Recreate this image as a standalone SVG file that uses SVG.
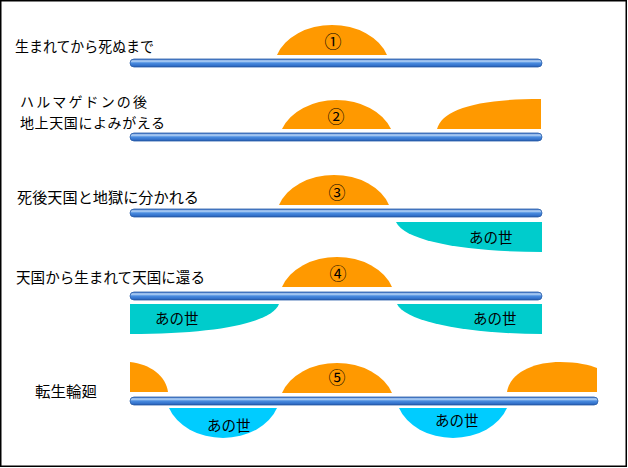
<svg xmlns="http://www.w3.org/2000/svg" width="628" height="468" viewBox="0 0 628 468">
<defs>
<linearGradient id="barGrad" x1="0" y1="0" x2="0" y2="1">
<stop offset="0" stop-color="#2c66c0"/>
<stop offset="0.25" stop-color="#bcd8f8"/>
<stop offset="0.5" stop-color="#4a8ce0"/>
<stop offset="0.8" stop-color="#3473cc"/>
<stop offset="1" stop-color="#2356a8"/>
</linearGradient>
</defs>
<style>
.bar{fill:url(#barGrad);stroke:#2a5eaa;stroke-width:0.8}
.life{fill:#ff9900}
.other{fill:#00cccc}
.other2{fill:#00ccff}
.lbl{font-family:"Noto Sans CJK JP","Noto Sans",sans-serif;font-size:14.5px;fill:#000}
.lbl2{font-family:"Noto Sans CJK JP","Noto Sans",sans-serif;font-size:14px;fill:#000}
.num{font-family:"Noto Sans CJK JP","DejaVu Sans",sans-serif;font-size:17px;fill:#000;text-anchor:middle}
.ano{font-family:"Noto Sans CJK JP","Noto Sans",sans-serif;font-size:14.5px;fill:#000}
</style>
<rect x="0" y="0" width="628" height="468" fill="#ffffff"/>
<rect x="0.75" y="0.75" width="625.5" height="465.5" fill="none" stroke="#000" stroke-width="1.5"/>

<g id="row1">
<text class="lbl" x="15" y="52" textLength="139" lengthAdjust="spacingAndGlyphs">生まれてから死ぬまで</text>
<path class="life" d="M277,55 A58,44 0 0 1 387,55 Z"/>
<text class="num" x="333" y="48">①</text>
<rect class="bar" x="130" y="59" width="412" height="8" rx="4"/>
</g>

<g id="row2">
<text class="lbl2" x="20" y="107" textLength="127" lengthAdjust="spacing">ハルマゲドンの後</text>
<text class="lbl2" x="20" y="128" textLength="145" lengthAdjust="spacing">地上天国によみがえる</text>
<path class="life" d="M282,129 A58,44 0 0 1 391,129 Z"/>
<text class="num" x="336" y="123">②</text>
<path class="life" d="M437,129 C442,110 475,99 541,99 L541,129 Z"/>
<rect class="bar" x="130" y="133" width="412" height="8" rx="4"/>
</g>

<g id="row3">
<text class="lbl" x="17" y="203" textLength="182" lengthAdjust="spacingAndGlyphs">死後天国と地獄に分かれる</text>
<path class="life" d="M279,205 A58,44 0 0 1 389,205 Z"/>
<text class="num" x="337" y="199">③</text>
<rect class="bar" x="130" y="209" width="412" height="8" rx="4"/>
<path class="other" d="M396,222 L542,222 L542,252 C470,252 405,242 396,222 Z"/>
<text class="ano" x="469" y="243">あの世</text>
</g>

<g id="row4">
<text class="lbl" x="16" y="283" textLength="189" lengthAdjust="spacingAndGlyphs">天国から生まれて天国に還る</text>
<path class="life" d="M282,287 A58,44 0 0 1 392,287 Z"/>
<text class="num" x="338" y="280">④</text>
<rect class="bar" x="130" y="292" width="412" height="8" rx="4"/>
<path class="other" d="M130,304 L279,304 C272,322 220,334 130,334 Z"/>
<text class="ano" x="155" y="324">あの世</text>
<path class="other" d="M397,304 L542,304 L542,334 C470,334 405,322 397,304 Z"/>
<text class="ano" x="473" y="324">あの世</text>
</g>

<g id="row5">
<text class="lbl" x="35" y="397" textLength="62" lengthAdjust="spacingAndGlyphs">転生輪廻</text>
<path class="life" d="M130,362 C150,364 166,376 168,392 L130,392 Z"/>
<path class="life" d="M282,393 A58,44 0 0 1 392,393 Z"/>
<text class="num" x="337" y="384">⑤</text>
<path class="life" d="M507,392 C510,372 535,362 560,362 C577,362 590,365 597,368 L597,392 Z"/>
<rect class="bar" x="130" y="397" width="468" height="8" rx="4"/>
<path class="other2" d="M169,408 A57,44 0 0 0 277,408 Z"/>
<text class="ano" x="207" y="431">あの世</text>
<path class="other2" d="M399,408 A57,44 0 0 0 507,408 Z"/>
<text class="ano" x="435" y="426">あの世</text>
</g>
</svg>
